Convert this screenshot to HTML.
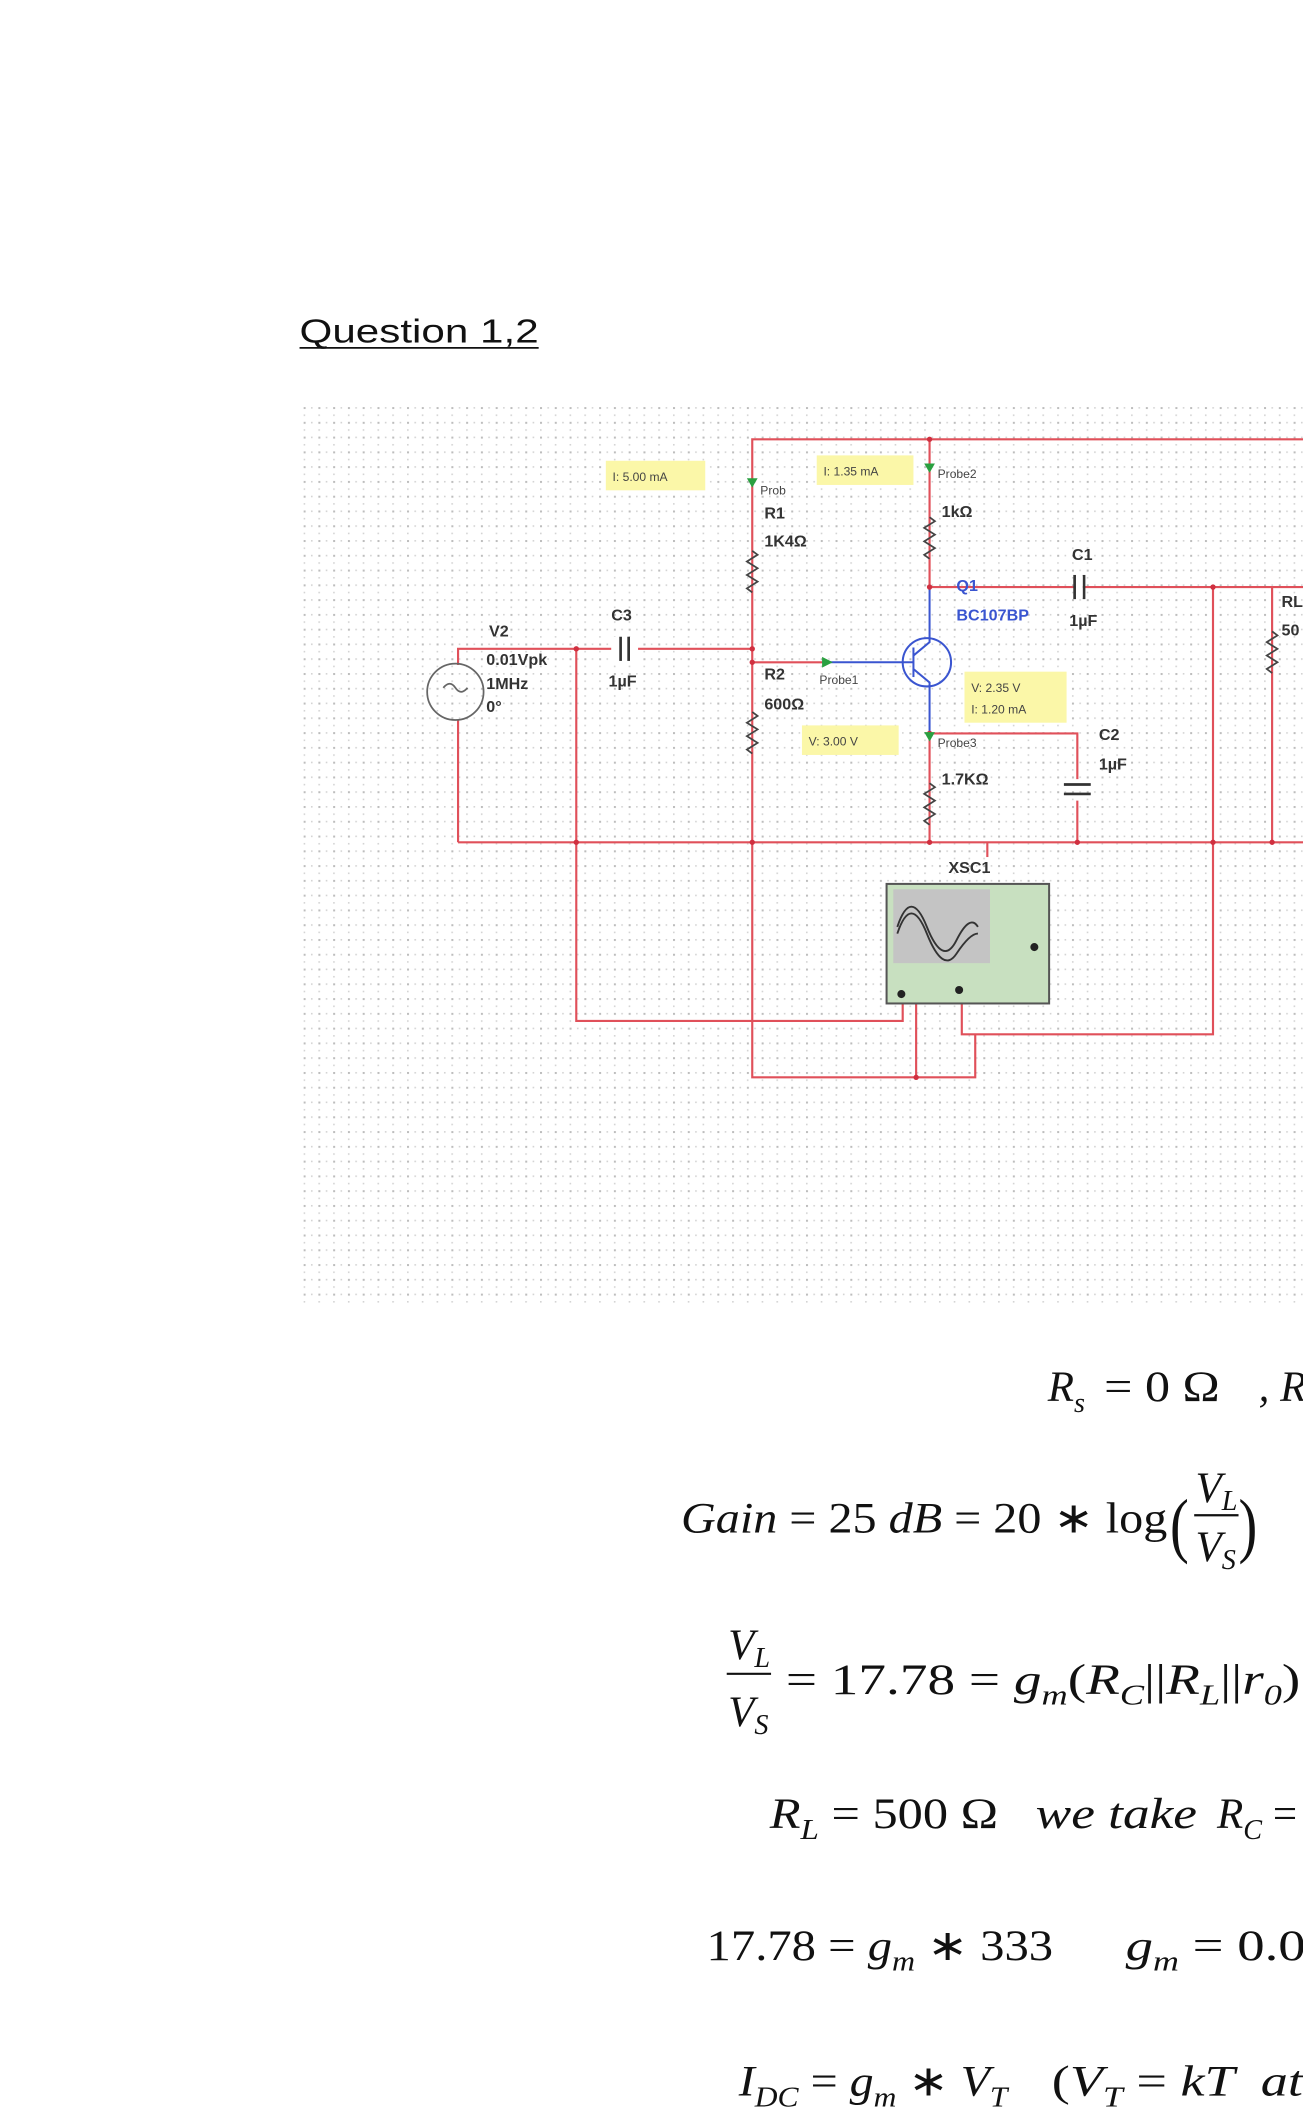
<!DOCTYPE html>
<html><head><meta charset="utf-8"><style>
html,body{margin:0;padding:0;background:#fff;}
svg{display:block}
.m{font-family:"Liberation Serif",serif;font-size:32px;fill:#111;white-space:pre}
.i{font-style:italic}
.s{font-size:21px;font-style:italic}
.lb{font-family:"Liberation Sans",sans-serif;font-size:12px;font-weight:bold;fill:#333}
.sm{font-family:"Liberation Sans",sans-serif;font-size:9px;fill:#444}
</style></head><body>
<svg width="1303" height="2107" viewBox="0 0 970 1568.5" xmlns="http://www.w3.org/2000/svg" xml:space="preserve">
<defs>
<pattern id="g" x="226" y="303" width="11" height="11" patternUnits="userSpaceOnUse">
<rect x="0" y="0" width="1.5" height="1.5" fill="#bdbdbd"/>
<rect x="5.5" y="0" width="1.2" height="1.2" fill="#d4d4d4"/>
<rect x="0" y="5.5" width="1.2" height="1.2" fill="#d4d4d4"/>
</pattern>
</defs>
<text x="223" y="255" font-family="Liberation Sans, sans-serif" font-size="25" fill="#111" textLength="178" lengthAdjust="spacingAndGlyphs">Question 1,2</text>
<line x1="223" y1="259" x2="401" y2="259" stroke="#111" stroke-width="1.3"/>
<rect x="226" y="303" width="744" height="667" fill="url(#g)"/>
<g stroke="#e0505a" stroke-width="1.6" fill="none">
<polyline points="560,627 560,327 970,327"/>
<line x1="692" y1="327" x2="692" y2="437"/>
<line x1="341" y1="627" x2="970" y2="627"/>
<polyline points="341,495 341,483 560,483"/>
<line x1="341" y1="536" x2="341" y2="627"/>
<line x1="560" y1="493" x2="612" y2="493"/>
<polyline points="692,437 970,437"/>
<polyline points="692,546 802,546 802,580"/>
<line x1="802" y1="596" x2="802" y2="627"/>
<line x1="692" y1="546" x2="692" y2="627"/>
<polyline points="903,437 903,770 716,770 716,740"/>
<line x1="947" y1="437" x2="947" y2="627"/>
<polyline points="429,483 429,760 672,760 672,740"/>
<polyline points="560,627 560,802 726,802 726,770"/>
<line x1="682" y1="740" x2="682" y2="802"/>
<line x1="735" y1="627" x2="735" y2="638"/>
</g>
<g stroke="#3a55d0" stroke-width="1.5" fill="none">
<line x1="612" y1="493" x2="680" y2="493"/>
<circle cx="690" cy="493" r="18"/>
<line x1="680" y1="482" x2="680" y2="504"/>
<polyline points="680,488 692,478 692,437"/>
<polyline points="680,498 692,508 692,546"/>
</g>
<g stroke="#444" stroke-width="1.3" fill="none">
<polyline points="560,410 564,413 556,418 564,423 556,428 564,433 556,438 560,441"/>
<polyline points="560,530 564,533 556,538 564,543 556,548 564,553 556,558 560,561"/>
<polyline points="692,385 696,388 688,393 696,398 688,403 696,408 688,413 692,416"/>
<polyline points="692,583 696,586 688,591 696,596 688,601 696,606 688,611 692,614"/>
<polyline points="947,470 951,473 943,478 951,483 943,488 951,493 943,498 947,501"/>
<circle cx="339" cy="515" r="21" stroke="#666"/>
<path d="M330 512 q5 -6 9 0 t9 0" stroke="#666"/>
</g>
<rect x="455" y="474" width="20" height="18" fill="#fff"/>
<g stroke="#333" stroke-width="2"><line x1="462" y1="474" x2="462" y2="492"/><line x1="468" y1="474" x2="468" y2="492"/>
<line x1="800" y1="428" x2="800" y2="446"/><line x1="807" y1="428" x2="807" y2="446"/>
<line x1="792" y1="584" x2="812" y2="584"/><line x1="792" y1="591" x2="812" y2="591"/></g>
<rect x="801" y="429" width="5" height="16" fill="#fff"/>
<g fill="#d03040"><circle cx="692" cy="327" r="2"/><circle cx="560" cy="483" r="2"/><circle cx="560" cy="493" r="2"/><circle cx="692" cy="437" r="2"/><circle cx="692" cy="546" r="2"/><circle cx="903" cy="437" r="2"/><circle cx="560" cy="627" r="2"/><circle cx="692" cy="627" r="2"/><circle cx="802" cy="627" r="2"/><circle cx="903" cy="627" r="2"/><circle cx="947" cy="627" r="2"/><circle cx="429" cy="627" r="2"/><circle cx="429" cy="483" r="2"/><circle cx="682" cy="802" r="2"/></g>
<g fill="#fbf7a8"><rect x="451" y="343" width="74" height="22"/><rect x="608" y="339" width="72" height="22"/><rect x="718" y="500" width="76" height="38"/><rect x="597" y="540" width="72" height="22"/></g>
<text x="456" y="358" class="sm">I: 5.00 mA</text><text x="613" y="354" class="sm">I: 1.35 mA</text>
<text x="723" y="515" class="sm">V: 2.35 V</text><text x="723" y="531" class="sm">I: 1.20 mA</text>
<text x="602" y="555" class="sm">V: 3.00 V</text>
<g fill="#2aa040"><path d="M556 356 l8 0 l-4 7z"/><path d="M688 345 l8 0 l-4 7z"/><path d="M612 489 l8 4 l-8 4z"/><path d="M688 545 l8 0 l-4 7z"/></g>
<text x="566" y="368" class="sm">Prob</text><text x="698" y="356" class="sm">Probe2</text><text x="610" y="509" class="sm">Probe1</text><text x="698" y="556" class="sm">Probe3</text>
<text x="569" y="386" class="lb">R1</text><text x="569" y="407" class="lb">1K4Ω</text>
<text x="701" y="385" class="lb">1kΩ</text>
<text x="798" y="417" class="lb">C1</text><text x="796" y="466" class="lb">1µF</text>
<text x="712" y="440" class="lb" style="fill:#3a55d0">Q1</text><text x="712" y="462" class="lb" style="fill:#3a55d0">BC107BP</text>
<text x="455" y="462" class="lb">C3</text><text x="453" y="511" class="lb">1µF</text>
<text x="364" y="474" class="lb">V2</text><text x="362" y="495" class="lb">0.01Vpk</text><text x="362" y="513" class="lb">1MHz</text><text x="362" y="530" class="lb">0°</text>
<text x="569" y="506" class="lb">R2</text><text x="569" y="528" class="lb">600Ω</text>
<text x="701" y="584" class="lb">1.7KΩ</text>
<text x="818" y="551" class="lb">C2</text><text x="818" y="573" class="lb">1µF</text>
<text x="954" y="452" class="lb">RL</text><text x="954" y="473" class="lb">50</text>
<text x="706" y="650" class="lb">XSC1</text>
<rect x="660" y="658" width="121" height="89" fill="#c8e0c0" stroke="#555" stroke-width="1.5"/>
<rect x="665" y="662" width="72" height="55" fill="#c4c4c4"/>
<path d="M668 690 q10 -30 22 0 t22 10 t16 -10" stroke="#333" fill="none" stroke-width="1.4"/>
<path d="M668 695 q10 -30 22 0 t22 15 t16 -15" stroke="#333" fill="none" stroke-width="1.4"/>
<circle cx="671" cy="740" r="3" fill="#222"/><circle cx="714" cy="737" r="3" fill="#222"/><circle cx="770" cy="705" r="3" fill="#222"/>
<!-- equations -->
<text x="780" y="1043" class="m i">R<tspan class="s" dy="8">s</tspan></text>
<text x="822" y="1043" class="m" textLength="86" lengthAdjust="spacingAndGlyphs">= 0 Ω</text>
<text x="937" y="1043" class="m i">, R</text>
<text x="507" y="1141" class="m" textLength="362" lengthAdjust="spacingAndGlyphs"><tspan class="i">Gain</tspan> = 25 <tspan class="i">dB</tspan> = 20 ∗ log</text>
<text x="871" y="1153" class="m" style="font-size:54px" textLength="14" lengthAdjust="spacingAndGlyphs">(</text>
<text x="922" y="1153" class="m" style="font-size:54px" textLength="14" lengthAdjust="spacingAndGlyphs">)</text>
<text x="890" y="1118" class="m i">V<tspan class="s" dy="6">L</tspan></text>
<line x1="889" y1="1128" x2="922" y2="1128" stroke="#111" stroke-width="1.6"/>
<text x="890" y="1162" class="m i">V<tspan class="s" dy="6">S</tspan></text>
<text x="542" y="1235" class="m i">V<tspan class="s" dy="6">L</tspan></text>
<line x1="541" y1="1246" x2="574" y2="1246" stroke="#111" stroke-width="1.6"/>
<text x="542" y="1285" class="m i">V<tspan class="s" dy="6">S</tspan></text>
<text x="585" y="1261" class="m" textLength="383" lengthAdjust="spacingAndGlyphs">= 17.78 = <tspan class="i">g</tspan><tspan class="s" dy="8">m</tspan><tspan dy="-8">(</tspan><tspan class="i">R</tspan><tspan class="s" dy="8">C</tspan><tspan dy="-8">||</tspan><tspan class="i">R</tspan><tspan class="s" dy="8">L</tspan><tspan dy="-8">||</tspan><tspan class="i">r</tspan><tspan class="s" dy="8">0</tspan><tspan dy="-8">)</tspan></text>
<text x="573" y="1361" class="m" textLength="170" lengthAdjust="spacingAndGlyphs"><tspan class="i">R</tspan><tspan class="s" dy="8">L</tspan><tspan dy="-8"> = 500 Ω</tspan></text>
<text x="771" y="1361" class="m i" textLength="120" lengthAdjust="spacingAndGlyphs">we take</text>
<text x="906" y="1361" class="m"><tspan class="i">R</tspan><tspan class="s" dy="8">C</tspan><tspan dy="-8"> =</tspan></text>
<text x="526" y="1459" class="m" textLength="258" lengthAdjust="spacingAndGlyphs">17.78 = <tspan class="i">g</tspan><tspan class="s" dy="8">m</tspan><tspan dy="-8"> ∗ 333</tspan></text>
<text x="838" y="1459" class="m" textLength="134" lengthAdjust="spacingAndGlyphs"><tspan class="i">g</tspan><tspan class="s" dy="8">m</tspan><tspan dy="-8"> = 0.0</tspan></text>
<text x="550" y="1560" class="m" textLength="200" lengthAdjust="spacingAndGlyphs"><tspan class="i">I</tspan><tspan class="s" dy="8">DC</tspan><tspan dy="-8"> = </tspan><tspan class="i">g</tspan><tspan class="s" dy="8">m</tspan><tspan dy="-8"> ∗ </tspan><tspan class="i">V</tspan><tspan class="s" dy="8">T</tspan></text>
<text x="783" y="1560" class="m" textLength="187" lengthAdjust="spacingAndGlyphs">(<tspan class="i">V</tspan><tspan class="s" dy="8">T</tspan><tspan dy="-8"> = </tspan><tspan class="i">kT  at</tspan></text>
</svg>
</body></html>
